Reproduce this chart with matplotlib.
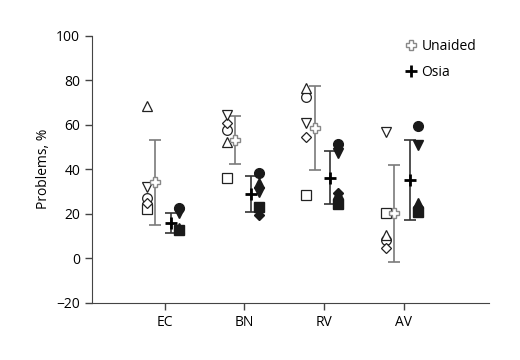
import numpy as np
import matplotlib
matplotlib.use("Agg")
import matplotlib.pyplot as plt
from matplotlib.lines import Line2D

plt.rcParams["font.family"] = ["Open Sans", "DejaVu Sans"]

tasks = ["EC", "BN", "RV", "AV"]

# individual participants, unaided condition (open markers)
unaided_up = [68.5, 52.1, 76.4, 10.4]
unaided_down = [31.9, 64.2, 60.6, 56.9]
unaided_circle = [26.9, 57.6, 72.3, 8.2]
unaided_diamond = [24.7, 60.6, 54.3, 4.4]
unaided_square = [22.0, 36.2, 28.4, 20.2]
unaided_mean = [34.1, 53.1, 58.4, 20.2]
unaided_sd = [19.0, 10.6, 18.9, 21.7]

# individual participants, Osia condition (filled markers)
osia_up = [13.5, 33.7, 28.8, 24.9]
osia_down = [20.3, 29.9, 47.1, 50.9]
osia_circle = [22.4, 38.2, 51.3, 59.4]
osia_diamond = [12.5, 19.4, 29.4, 23.1]
osia_square = [12.5, 22.9, 24.4, 20.9]
osia_mean = [16.0, 28.9, 36.2, 35.1]
osia_sd = [4.5, 8.0, 11.8, 18.1]

x = np.arange(1, len(tasks) + 1)

fig = plt.figure(figsize=(5.2, 3.6), dpi=100)
ax = fig.add_axes([0.177, 0.159, 0.763, 0.742])

ms = 7
# unaided individual markers
for vals, m in [(unaided_square, "s"), (unaided_circle, "o"), (unaided_diamond, "D"),
                (unaided_down, "v"), (unaided_up, "^")]:
    size = ms - 1.5 if m == "D" else ms
    ax.plot(x - 0.22, vals, linestyle="none", marker=m, markersize=size,
            markerfacecolor="white", markeredgecolor="#222222", markeredgewidth=0.9, zorder=3)

# osia individual markers
for vals, m in [(osia_circle, "o"), (osia_up, "^"), (osia_down, "v"),
                (osia_diamond, "D"), (osia_square, "s")]:
    size = ms - 1.5 if m == "D" else ms
    ax.plot(x + 0.18, vals, linestyle="none", marker=m, markersize=size,
            color="#1a1a1a", zorder=3)

# means with sd
ax.errorbar(x - 0.115, unaided_mean, yerr=unaided_sd, fmt="none", ecolor="#7a7a7a",
            elinewidth=1.2, capsize=4, capthick=1.2, zorder=2)
ax.plot(x - 0.115, unaided_mean, linestyle="none", marker="P", markersize=6.5,
        markerfacecolor="white", markeredgecolor="#888888", markeredgewidth=1.0, zorder=4)
ax.errorbar(x + 0.08, osia_mean, yerr=osia_sd, fmt="none", ecolor="#333333",
            elinewidth=1.2, capsize=4, capthick=1.2, zorder=2)
ax.plot(x + 0.08, osia_mean, linestyle="none", marker="+", markersize=9,
        color="black", markeredgewidth=2, zorder=4)

ax.set_xlim(0.09, 5.07)
ax.set_ylim(-20, 100)
ax.set_xticks(x)
ax.set_xticklabels(tasks)
ax.set_yticks(np.arange(-20, 101, 20))
ax.set_yticklabels(["\u221220", "0", "20", "40", "60", "80", "100"])
ax.set_ylabel("Problems, %", fontsize=10)
ax.tick_params(labelsize=10, color="#444444", width=1, length=5)
ax.spines["top"].set_visible(False)
ax.spines["right"].set_visible(False)
ax.spines["left"].set_color("#444444")
ax.spines["bottom"].set_color("#444444")

handles = [
    Line2D([], [], linestyle="none", marker="P", markersize=6.5, markerfacecolor="white",
           markeredgecolor="#888888", markeredgewidth=1.0),
    Line2D([], [], linestyle="none", marker="+", markersize=8, color="black", markeredgewidth=2),
]
ax.legend(handles, ["Unaided", "Osia"], frameon=False, fontsize=10, loc="upper right",
          bbox_to_anchor=(1.0, 1.035), handletextpad=0.25, labelspacing=0.8, handlelength=1.0)

fig.savefig("out.png", dpi=100)
